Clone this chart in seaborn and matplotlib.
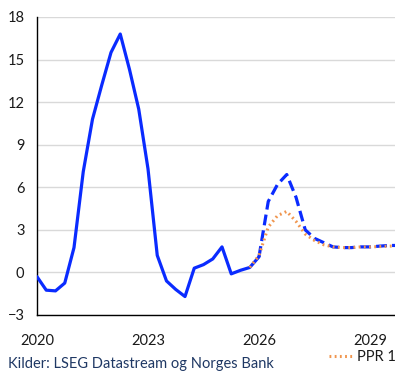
import numpy as np
import pandas as pd
import matplotlib
matplotlib.use("Agg")
import matplotlib.pyplot as plt
import seaborn as sns

# ---- data ----
hist_x = [2020.0, 2020.25, 2020.5, 2020.75, 2021.0, 2021.25, 2021.5, 2021.75,
          2022.0, 2022.25, 2022.5, 2022.75, 2023.0, 2023.25, 2023.5, 2023.75,
          2024.0, 2024.25, 2024.5, 2024.75, 2025.0, 2025.25, 2025.5, 2025.75, 2026.0]
hist_y = [-0.3, -1.25, -1.3, -0.75, 1.75, 7.1, 10.8, 13.2,
          15.5, 16.8, 14.3, 11.5, 7.3, 1.2, -0.6, -1.2,
          -1.7, 0.3, 0.55, 0.95, 1.8, -0.1, 0.15, 0.35, 1.1]

proj_x = [2026.0, 2026.25, 2026.5, 2026.75, 2027.0, 2027.25, 2027.5, 2027.75,
          2028.0, 2028.25, 2028.5, 2028.75, 2029.0, 2029.25, 2029.5, 2029.75, 2030.0]
proj_y = [1.1, 5.0, 6.2, 6.9, 5.3, 3.0, 2.4, 2.1,
          1.8, 1.75, 1.75, 1.8, 1.8, 1.85, 1.9, 1.9, 1.9]

ppr1_x = [2025.75, 2026.0, 2026.25, 2026.5, 2026.75, 2027.0, 2027.25, 2027.5,
          2027.75, 2028.0, 2028.25, 2028.5, 2028.75, 2029.0, 2029.25, 2029.5,
          2029.75, 2030.0]
ppr1_y = [0.35, 1.2, 3.2, 4.0, 4.3, 3.6, 2.7, 2.25,
          1.95, 1.8, 1.75, 1.75, 1.8, 1.8, 1.82, 1.85, 1.87, 1.9]

y_ticks = [-3, 0, 3, 6, 9, 12, 15, 18]
x_ticks = [2020, 2023, 2026, 2029]
source = "Kilder: LSEG Datastream og Norges Bank"

# ---- style ----
sns.set_style("white")
plt.rcParams["font.family"] = ["Lato", "DejaVu Sans"]

BLUE = "#0a2bff"
ORANGE = "#f0964f"
W, H = 395, 372
fig = plt.figure(figsize=(W / 100, H / 100), dpi=100)
ax_left, ax_bottom, ax_top = 37, 315, 17
ax = fig.add_axes([ax_left / W, (H - ax_bottom) / H, 370 / W, (ax_bottom - ax_top) / H])

df_h = pd.DataFrame({"x": hist_x, "y": hist_y})
df_p = pd.DataFrame({"x": proj_x, "y": proj_y})
df_o = pd.DataFrame({"x": ppr1_x, "y": ppr1_y})

sns.lineplot(data=df_h, x="x", y="y", ax=ax, color=BLUE, lw=2.3, zorder=3)
sns.lineplot(data=df_p, x="x", y="y", ax=ax, color=BLUE, lw=2.3, zorder=3)
ax.lines[-1].set_dashes([3.4, 1.6])
sns.lineplot(data=df_o, x="x", y="y", ax=ax, color=ORANGE, lw=2.2, zorder=4)
ax.lines[-1].set_linestyle((0, (0.6, 1.1)))
orange_line = ax.lines[-1]

ax.set_xlim(2020, 2030)
ax.set_ylim(-3, 18)
ax.set_xticks(x_ticks)
ax.set_yticks(y_ticks)
ax.set_xlabel("")
ax.set_ylabel("")
ax.grid(axis="y", color="#d9d9d9", lw=1.0)
ax.grid(axis="x", visible=False)
for s in ["top", "right"]:
    ax.spines[s].set_visible(False)
for s in ["left", "bottom"]:
    ax.spines[s].set_color("#000000")
    ax.spines[s].set_linewidth(1.0)
ax.tick_params(axis="both", direction="in", length=4, width=0.8, color="#000000",
               labelsize=10.5, labelcolor="#1a1a1a")
ax.tick_params(axis="x", pad=14)
ax.tick_params(axis="y", pad=9, length=0)

fig.text(8 / W, 1 - 368 / H, source, fontsize=10.5, color="#1f3864",
         va="baseline", ha="left")

leg = fig.legend(handles=[orange_line], labels=["PPR 1"], loc="center left",
                 bbox_to_anchor=(329 / W, 1 - 357 / H), frameon=False,
                 fontsize=10.5, handlelength=1.65, handletextpad=0.3,
                 borderaxespad=0, borderpad=0)
for t in leg.get_texts():
    t.set_color("#1a1a1a")

fig.savefig("out.png", dpi=100)
